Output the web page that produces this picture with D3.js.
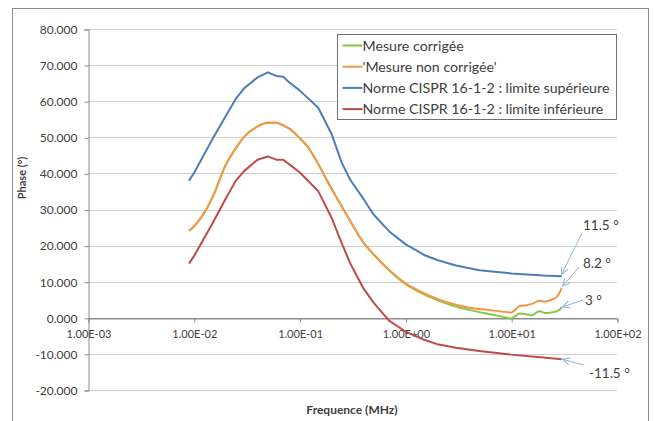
<!DOCTYPE html>
<html>
<head>
<meta charset="utf-8">
<script src="https://cdn.jsdelivr.net/npm/d3@7/dist/d3.min.js"></script>
<style>
  html, body { margin: 0; padding: 0; background: #fff; }
  svg text { font-family: Lato, "Open Sans", sans-serif; fill: #404040; }
</style>
</head>
<body>
<div id="chart"></div>
<script>
// limits, frequency in MHz
const limitFreq = [0.009, 0.01, 0.015, 0.02, 0.025, 0.03, 0.04, 0.05, 0.06, 0.07, 0.08, 0.1, 0.15,
  0.2, 0.25, 0.3, 0.4, 0.5, 0.7, 1, 1.5, 2, 3, 5, 10, 20, 30];
const upperLimit = [38, 40, 49.5, 55.8, 60.7, 63.6, 66.6, 68, 67, 66.8, 65.2, 63, 58.2,
  51, 43, 38.3, 33, 28.6, 24, 20.4, 17.4, 16, 14.5, 13.2, 12.3, 11.7, 11.5];
const lowerLimit = [15, 17, 26.1, 33, 38, 40.7, 43.8, 44.7, 43.8, 43.8, 42.5, 40.3, 35.1,
  27.8, 20.7, 15.2, 8.2, 4.2, -0.8, -3.8, -6.1, -7.3, -8.3, -9.2, -10.2, -11, -11.5];

// measurements
const measFreq = [0.009, 0.01, 0.012, 0.015, 0.02, 0.025, 0.03, 0.04, 0.05, 0.06, 0.07, 0.08, 0.1,
  0.12, 0.15, 0.2, 0.25, 0.3, 0.4, 0.5, 0.7, 1, 1.5, 2, 3, 4, 6, 9, 10, 12, 14, 15.5, 18.5, 21,
  24, 27, 29.5, 30];
const uncorrected = [24.1, 25.3, 28.2, 33.3, 42.3, 47, 50.2, 53, 54, 54, 53.3, 52.4, 49.8,
  47.3, 42.6, 35.8, 30.8, 26.9, 20.9, 17.6, 13.3, 9.6, 6.8, 5.2, 3.6, 2.8, 2.2, 1.6, 1.5, 3.2,
  3.5, 3.8, 4.7, 4.5, 5, 5.8, 7.7, 8.2];
const corrected = [24.1, 25.3, 28.2, 33.3, 42.3, 47, 50.2, 53, 54, 54, 53.3, 52.4, 49.8,
  47.3, 42.6, 35.8, 30.8, 26.9, 20.9, 17.6, 13.2, 9.4, 6.5, 4.9, 3.1, 2.2, 1.1, 0.1, -0.2, 1.2,
  1.0, 0.7, 1.8, 1.3, 1.5, 1.8, 2.6, 3.0];

const seriesNames = ['Mesure corrigée', "'Mesure non corrigée'",
  'Norme CISPR 16-1-2 : limite supérieure', 'Norme CISPR 16-1-2 : limite inférieure'];
const seriesColors = ['#86c940', '#f79646', '#4a7ebb', '#be4b48'];

const xTicks = [1e-3, 1e-2, 1e-1, 1e0, 1e1, 1e2];
const yTicks = [-20, -10, 0, 10, 20, 30, 40, 50, 60, 70, 80];
const endLabels = ['11.5 °', '8.2 °', '3 °', '-11.5 °'];

const width = 654;
const height = 421;

const svg = d3.select('#chart').append('svg')
  .attr('width', width)
  .attr('height', height);

// chart frame
svg.append('rect')
  .attr('x', 12.5).attr('y', 8.5)
  .attr('width', 636).attr('height', 430)
  .attr('fill', 'none')
  .attr('stroke', '#8c8c8c');

const x = d3.scaleLog().domain([1e-3, 1e2]).range([88, 617]);
const y = d3.scaleLinear().domain([-20, 80]).range([390, 29]);

// gridlines
svg.append('g')
  .selectAll('line')
  .data(yTicks)
  .join('line')
  .attr('x1', x.range()[0]).attr('x2', x.range()[1])
  .attr('y1', d => Math.round(y(d)) + 0.5).attr('y2', d => Math.round(y(d)) + 0.5)
  .attr('stroke', d => d === 0 ? '#8c8c8c' : '#cfcfcf');

// y axis
const yAxis = svg.append('g')
  .attr('transform', `translate(${x.range()[0] + 0.5},0.5)`)
  .call(d3.axisLeft(y).tickValues(yTicks).tickSize(4).tickPadding(7)
    .tickFormat(d => d.toFixed(3)));
yAxis.select('.domain').attr('stroke', '#8c8c8c');
yAxis.selectAll('.tick line').attr('stroke', '#8c8c8c');
yAxis.selectAll('.tick text')
  .style('font-size', '12px')
  .attr('fill', '#404040');

// x axis crossing at 0
const expFormat = d => {
  const e = Math.round(Math.log10(d));
  const s = e < 0 ? '-' : '+';
  return '1.00E' + s + String(Math.abs(e)).padStart(2, '0');
};
const xAxis = svg.append('g')
  .attr('transform', `translate(0.5,${Math.round(y(0)) + 0.5})`)
  .call(d3.axisBottom(x).tickValues(xTicks).tickSize(4).tickPadding(8)
    .tickFormat(expFormat));
xAxis.select('.domain').attr('stroke', '#8c8c8c');
xAxis.selectAll('.tick line').attr('stroke', '#8c8c8c');
xAxis.selectAll('.tick text')
  .style('font-size', '11px')
  .attr('fill', '#404040');

// axis titles
svg.append('text')
  .attr('x', 352).attr('y', 414)
  .attr('text-anchor', 'middle')
  .style('font-size', '12px')
  .style('font-weight', 'bold')
  .text('Frequence (MHz)');

svg.append('text')
  .attr('transform', 'translate(26,178) rotate(-90)')
  .attr('text-anchor', 'middle')
  .style('font-size', '11px')
  .style('font-weight', 'bold')
  .text('Phase (°)');

// series
const series = [
  { freq: measFreq, values: corrected },
  { freq: measFreq, values: uncorrected },
  { freq: limitFreq, values: upperLimit },
  { freq: limitFreq, values: lowerLimit }
];

const line = d3.line()
  .x(d => x(d[0]))
  .y(d => y(d[1]));

// draw limits first, then measurements on top (orange over green)
[3, 2, 0, 1].forEach(i => {
  const s = series[i];
  svg.append('path')
    .datum(d3.zip(s.freq, s.values))
    .attr('fill', 'none')
    .attr('stroke', seriesColors[i])
    .attr('stroke-width', 2)
    .attr('stroke-linejoin', 'round')
    .attr('d', line.curve(i < 2 ? d3.curveMonotoneX : d3.curveLinear));
});

// legend
const legend = svg.append('g').attr('transform', 'translate(337.5,34.5)');
legend.append('rect')
  .attr('width', 279).attr('height', 85)
  .attr('fill', '#fff')
  .attr('stroke', '#707070');
seriesNames.forEach((name, i) => {
  const ly = 11 + i * 21.2;
  legend.append('line')
    .attr('x1', 5).attr('x2', 25)
    .attr('y1', ly).attr('y2', ly)
    .attr('stroke', seriesColors[i])
    .attr('stroke-width', 2);
  legend.append('text')
    .attr('x', 25).attr('y', ly + 5)
    .style('font-size', '14.2px')
    .attr('fill', '#000')
    .text(name);
});

// end-value callouts
const defs = svg.append('defs');
defs.append('marker')
  .attr('id', 'arrow')
  .attr('viewBox', '0 0 10 10')
  .attr('refX', 9).attr('refY', 5)
  .attr('markerWidth', 9).attr('markerHeight', 9)
  .attr('markerUnits', 'userSpaceOnUse')
  .attr('orient', 'auto')
  .append('path')
  .attr('d', 'M1,1 L9,5 L1,9')
  .attr('fill', 'none')
  .attr('stroke', '#8eb4e3')
  .attr('stroke-width', 1.2);

const endValues = [upperLimit[upperLimit.length - 1], uncorrected[uncorrected.length - 1],
  corrected[corrected.length - 1], lowerLimit[lowerLimit.length - 1]];
const callouts = [
  { tx: 583, ty: 225, ax: 582, ay: 233, dx: 0, dy: -2 },
  { tx: 583, ty: 263, ax: 579, ay: 267, dx: 1, dy: -2 },
  { tx: 585, ty: 300, ax: 583, ay: 300, dx: 1, dy: 0 },
  { tx: 589, ty: 373, ax: 584, ay: 365, dx: 1, dy: 0 }
];
const xEnd = x(30);
callouts.forEach((c, i) => {
  svg.append('line')
    .attr('x1', c.ax).attr('y1', c.ay)
    .attr('x2', xEnd + c.dx).attr('y2', y(endValues[i]) + c.dy)
    .attr('stroke', '#8eb4e3')
    .attr('stroke-width', 1)
    .attr('marker-end', 'url(#arrow)');
  svg.append('text')
    .attr('x', c.tx).attr('y', c.ty + 5)
    .style('font-size', '13.5px')
    .attr('fill', '#000')
    .text(endLabels[i]);
});
</script>
</body>
</html>
